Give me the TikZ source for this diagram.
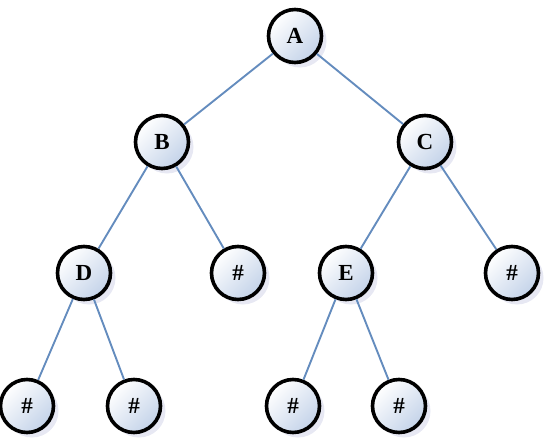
\documentclass[tikz,border=0pt]{standalone}
\usepackage{fontspec}
\setmainfont{Liberation Serif}
\usetikzlibrary{shadows}

\definecolor{edgeblue}{RGB}{100,140,190}
\definecolor{cellfill}{RGB}{196,211,233}

\begin{document}
\begin{tikzpicture}[
        x=1pt, y=-1pt, % координаты в пикселях
        edge/.style = {draw=edgeblue, line width=1.9pt}, % Стиль рёбер
        cell/.style={circle, draw=black, line width=3.6pt, minimum size=53pt, inner sep=0pt,
            top color=white, bottom color=cellfill, shading angle=45,
            drop shadow={shadow xshift=5pt, shadow yshift=-5pt, opacity=0.2, fill=cellfill!70!blue!60!gray},
            font=\fontsize{23}{24}\selectfont\bfseries}, % Стиль узлов
    ]
    \useasboundingbox (0,0) rectangle (550,439);

    \node[cell] (A) at (295,36) {A};
    \node[cell] (B) at (162,142) {B};
    \node[cell] (C) at (425,142) {C};
    \node[cell] (D) at (84,273) {D};
    \node[cell] (Bnil) at (238,273) {\#};
    \node[cell] (E) at (346,273) {E};
    \node[cell] (Cnil) at (512,273) {\#};
    \node[cell] (Dnil1) at (27,406) {\#};
    \node[cell] (Dnil2) at (134,406) {\#};
    \node[cell] (Enil1) at (293,406) {\#};
    \node[cell] (Enil2) at (399,406) {\#};

    \draw[edge] (A) -- (B);
    \draw[edge] (A) -- (C);
    \draw[edge] (B) -- (D);
    \draw[edge] (B) -- (Bnil);
    \draw[edge] (C) -- (E);
    \draw[edge] (C) -- (Cnil);
    \draw[edge] (D) -- (Dnil1);
    \draw[edge] (D) -- (Dnil2);
    \draw[edge] (E) -- (Enil1);
    \draw[edge] (E) -- (Enil2);
\end{tikzpicture}
\end{document}
